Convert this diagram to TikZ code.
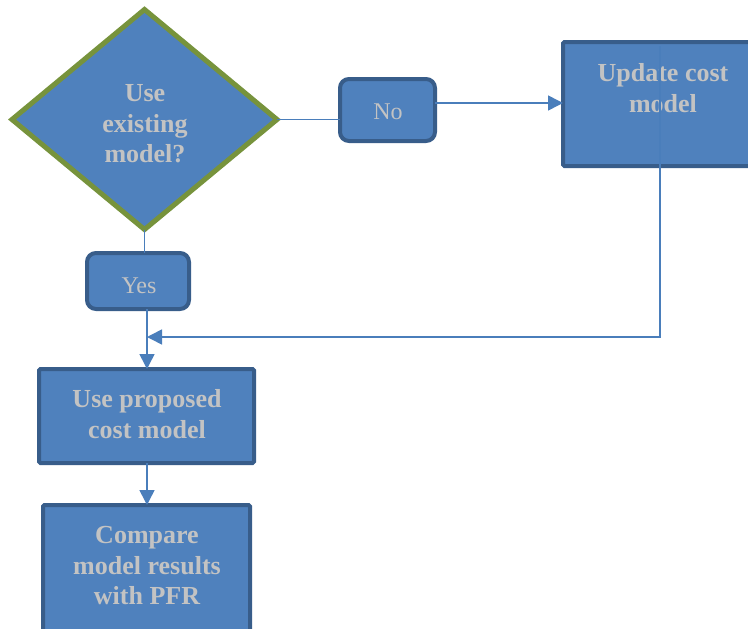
\documentclass[tikz,border=0pt]{standalone}
\usepackage{fontspec}
\setmainfont{Liberation Serif}
\usetikzlibrary{shapes.geometric,arrows.meta}
\definecolor{boxfill}{HTML}{4F81BD}
\definecolor{boxline}{HTML}{385D8A}
\definecolor{diaLine}{HTML}{77933C}
\definecolor{txtgray}{HTML}{C3C3C3}
\definecolor{conn}{HTML}{4A7EBB}
\tikzset{
  procbox/.style={draw=boxline, fill=boxfill, line width=4pt, rounded corners=1.5pt, inner sep=0pt, outer sep=0pt},
  tagbox/.style={draw=boxline, fill=boxfill, line width=4pt, rounded corners=9pt, inner sep=0pt, outer sep=0pt},
  decision/.style={diamond, draw=diaLine, fill=boxfill, line width=5pt, inner sep=0pt, outer sep=0pt, line join=miter},
  boldtxt/.style={text=txtgray, font=\fontsize{26}{30.5}\selectfont\bfseries, align=center, inner sep=0pt},
  plaintxt/.style={text=txtgray, font=\fontsize{24}{28}\selectfont, align=center, inner sep=0pt},
  conline/.style={draw=conn, line width=1.6pt},
  arr/.style={conline, -{Triangle[length=15pt,width=15pt]}},
}
\begin{document}
\begin{tikzpicture}[x=1pt,y=-1pt]
\useasboundingbox[fill=white] (0,0) rectangle (748,629);
% shapes
\node[decision, minimum width=265pt, minimum height=220pt] (dia) at (144.5,119.5) {};
\node[tagbox, minimum width=95pt, minimum height=62pt] (no) at (387.5,110) {};
\node[tagbox, minimum width=102pt, minimum height=56pt] (yes) at (138,281) {};
\node[procbox, minimum width=200pt, minimum height=124pt, anchor=north west] (upd) at (563,42) {};
\node[procbox, minimum width=215pt, minimum height=94pt, anchor=north west] (prop) at (39,369) {};
\node[procbox, minimum width=207pt, minimum height=140pt, anchor=north west] (cmp) at (43,505) {};
% texts
\node[boldtxt] (diatxt) at (145,124) {Use\\existing\\model?};
\node[plaintxt] (notxt) at (388,112) {No};
\node[plaintxt] (yestxt) at (139,286) {Yes};
\node[boldtxt] (updtxt) at (663,88) {Update cost\\model};
\node[boldtxt] (proptxt) at (147,414) {Use proposed\\cost model};
\node[boldtxt] (cmptxt) at (147,566) {Compare\\model results\\with PFR};
% coordinates
\coordinate (updsrc) at (660,46);
\coordinate (corner) at (660,337);
\coordinate (join) at (147,337);
% connectors
\draw[conline] (dia.east) -- (dia.east -| no.west);
\draw[arr] ([yshift=7pt]no.east) -- ([yshift=7pt]no.east -| upd.west);
\draw[conline] (dia.south) -- (dia.south |- yes.north);
\draw[arr] (yes.south -| join) -- (join |- prop.north);
\draw[arr] (updsrc) -- (corner) -- (join);
\draw[arr] (prop.south -| join) -- (join |- cmp.north);
\end{tikzpicture}
\end{document}
